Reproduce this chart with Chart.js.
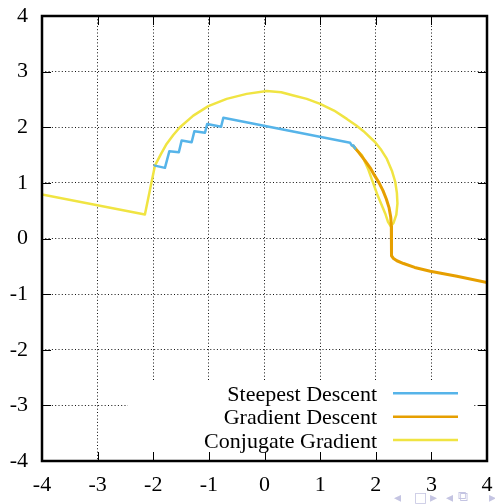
<!DOCTYPE html>
<html><head><meta charset="utf-8">
<script src="https://cdn.jsdelivr.net/npm/chart.js@4/dist/chart.umd.min.js"></script>
<style>
html,body{margin:0;padding:0;background:#fff;}
#wrap{position:relative;width:495px;height:504px;overflow:hidden;}
canvas{position:absolute;left:0;top:0;}
.nav{position:absolute;font-family:'DejaVu Sans';font-size:14px;color:#c4c4e2;line-height:14px;}
</style></head><body>
<div id="wrap"><canvas id="c" width="495" height="504"></canvas>
<span class="nav" style="left:394px;top:490px">◂</span>
<span class="nav" style="left:414px;top:490px">□</span>
<span class="nav" style="left:430px;top:490px">▸</span>
<span class="nav" style="left:446px;top:490px">◂</span>
<span class="nav" style="left:458px;top:489px">⧉</span>
<span class="nav" style="left:489px;top:490px">▸</span>
</div>
<script>
const xTicks = [-4, -3, -2, -1, 0, 1, 2, 3, 4];
const yTicks = [-4, -3, -2, -1, 0, 1, 2, 3, 4];
const xTickLabels = ['-4', '-3', '-2', '-1', '0', '1', '2', '3', '4'];
const yTickLabels = ['-4', '-3', '-2', '-1', '0', '1', '2', '3', '4'];
const seriesNames = ['Steepest Descent', 'Gradient Descent', 'Conjugate Gradient'];
const seriesColors = ['#56b4e9', '#e69f00', '#f0e442'];

// Steepest Descent
const sdX = [-1.97, -1.79, -1.71, -1.54, -1.49, -1.31, -1.26, -1.07, -1.03, -0.78, -0.74, 1.54, 1.57, 1.60, 1.63];
const sdY = [1.31, 1.27, 1.57, 1.55, 1.76, 1.73, 1.93, 1.90, 2.06, 2.01, 2.17, 1.72, 1.67, 1.67, 1.62];

// Gradient Descent
const gdX = [1.60, 1.70, 1.80, 1.90, 1.98, 2.06, 2.13, 2.19, 2.24, 2.27, 2.28, 2.28, 2.28, 2.29, 2.32, 2.38, 2.50, 2.70, 2.98, 3.46, 4.00];
const gdY = [1.66, 1.54, 1.41, 1.27, 1.13, 1.00, 0.86, 0.71, 0.55, 0.38, 0.22, 0.00, -0.24, -0.31, -0.36, -0.40, -0.45, -0.52, -0.59, -0.68, -0.79];

// Conjugate Gradient
const cgX = [-4.00, -2.15, -1.97, -1.86, -1.76, -1.64, -1.52, -1.28, -1.01, -0.68, -0.32, 0.04, 0.30, 0.52, 0.76, 1.00, 1.25, 1.48, 1.65, 1.78, 1.99, 2.10, 2.20, 2.29, 2.35, 2.38, 2.39, 2.37, 2.32, 2.27, 2.22, 2.17, 2.02, 1.87, 1.75, 1.63, 1.58];
const cgY = [0.79, 0.43, 1.31, 1.52, 1.70, 1.86, 2.00, 2.21, 2.38, 2.51, 2.60, 2.65, 2.63, 2.57, 2.51, 2.42, 2.30, 2.15, 2.03, 1.93, 1.73, 1.59, 1.43, 1.22, 1.02, 0.82, 0.63, 0.43, 0.28, 0.22, 0.30, 0.45, 0.81, 1.23, 1.50, 1.62, 1.67];

function pts(xs, ys) { return xs.map((x, i) => ({x: x, y: ys[i]})); }

const FONT = '"Liberation Serif", "Times New Roman", serif';

const framePlugin = {
  id: 'frame',
  beforeDatasetsDraw(chart) {
    const ctx = chart.ctx, a = chart.chartArea;
    ctx.save();
    ctx.fillStyle = '#fff';
    ctx.fillRect(a.left + 86, a.bottom - 79, (a.right - 14) - (a.left + 86), 78);
    ctx.restore();
  },
  afterDatasetsDraw(chart) {
    const ctx = chart.ctx, a = chart.chartArea;
    const xs = chart.scales.x, ys = chart.scales.y;
    ctx.save();
    ctx.strokeStyle = '#000';
    ctx.lineWidth = 1;
    const L = 9;
    ctx.beginPath();
    xs.ticks.forEach(t => {
      const p = Math.round(xs.getPixelForValue(t.value)) + 0.5;
      ctx.moveTo(p, a.bottom); ctx.lineTo(p, a.bottom - L);
      ctx.moveTo(p, a.top); ctx.lineTo(p, a.top + L);
    });
    ys.ticks.forEach(t => {
      const p = Math.round(ys.getPixelForValue(t.value)) + 0.5;
      ctx.moveTo(a.left, p); ctx.lineTo(a.left + L, p);
      ctx.moveTo(a.right, p); ctx.lineTo(a.right - L, p);
    });
    ctx.stroke();
    ctx.lineWidth = 2.5;
    ctx.strokeRect(a.left, a.top, a.right - a.left, a.bottom - a.top);

    // legend
    ctx.font = '22px ' + FONT;
    ctx.textAlign = 'right';
    ctx.textBaseline = 'alphabetic';
    ctx.fillStyle = '#000';
    const rows = [67.7, 44.3, 21];
    chart.data.datasets.forEach((ds, i) => {
      const y = a.bottom - rows[i];
      ctx.fillText(ds.label, a.left + 335, y + 7.5);
      ctx.strokeStyle = ds.borderColor;
      ctx.lineWidth = 2.5;
      ctx.beginPath();
      ctx.moveTo(a.left + 351, y);
      ctx.lineTo(a.left + 416, y);
      ctx.stroke();
    });
    ctx.restore();
  }
};

new Chart(document.getElementById('c'), {
  type: 'scatter',
  data: {
    datasets: [
      {label: seriesNames[0], data: pts(sdX, sdY), borderColor: seriesColors[0], borderWidth: 2.5},
      {label: seriesNames[1], data: pts(gdX, gdY), borderColor: seriesColors[1], borderWidth: 3},
      {label: seriesNames[2], data: pts(cgX, cgY), borderColor: seriesColors[2], borderWidth: 2.5}
    ].map(d => Object.assign(d, {showLine: true, pointRadius: 0, tension: 0, fill: false, backgroundColor: d.borderColor, borderJoinStyle: 'round', borderCapStyle: 'round'}))
  },
  options: {
    responsive: false,
    animation: false,
    devicePixelRatio: 1,
    layout: {padding: {top: 16, right: 8, left: 0, bottom: 0}},
    plugins: {legend: {display: false}, tooltip: {enabled: false}},
    scales: {
      x: {
        type: 'linear', min: -4, max: 4,
        afterBuildTicks: s => { s.ticks = xTicks.map(v => ({value: v})); },
        afterFit: s => { s.height = 43; s.paddingLeft = 0; s.paddingRight = 0; },
        ticks: {autoSkip: false, maxRotation: 0, padding: 11, color: '#000', font: {family: FONT, size: 22},
          callback: (v, i) => xTickLabels[i]},
        grid: {color: '#111', lineWidth: 1, drawTicks: false},
        border: {display: false, dash: [1, 2.3]}
      },
      y: {
        type: 'linear', min: -4, max: 4,
        afterBuildTicks: s => { s.ticks = yTicks.map(v => ({value: v})); },
        afterFit: s => { s.width = 42; s.paddingTop = 0; s.paddingBottom = 0; },
        ticks: {autoSkip: false, padding: 14, color: '#000', font: {family: FONT, size: 22},
          callback: (v, i) => yTickLabels[i]},
        grid: {color: '#111', lineWidth: 1, drawTicks: false},
        border: {display: false, dash: [1, 2.3]}
      }
    }
  },
  plugins: [framePlugin]
});
</script>
</body></html>
